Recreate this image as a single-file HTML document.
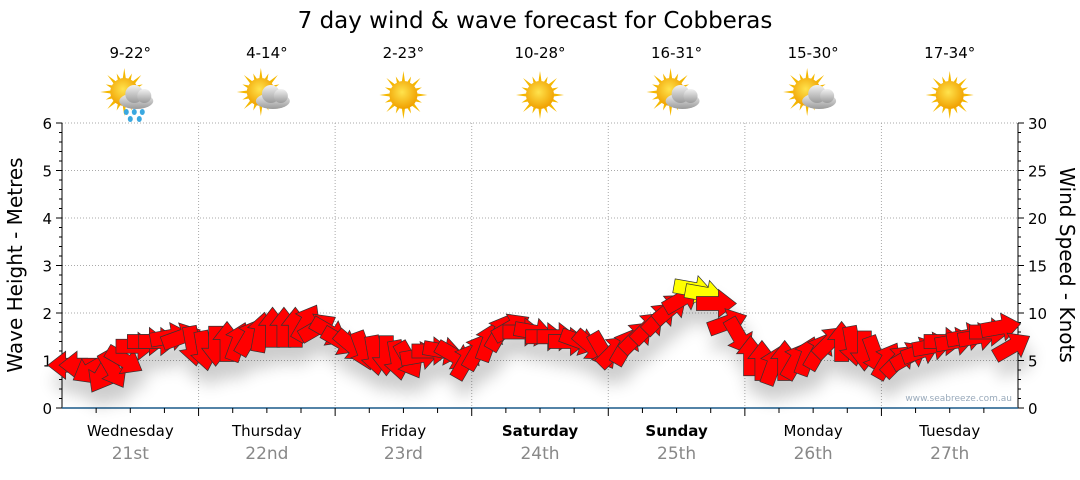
<!DOCTYPE html>
<html><head><meta charset="utf-8"><style>
body{margin:0;background:#fff;width:1080px;height:475px;overflow:hidden;font-family:"Liberation Sans","DejaVu Sans",sans-serif}
svg text{font-family:"DejaVu Sans","Liberation Sans",sans-serif}
</style></head><body>
<svg id="c" width="1080" height="475" xmlns="http://www.w3.org/2000/svg">
<defs>
<filter id="sh" x="-20%" y="-20%" width="140%" height="180%"><feGaussianBlur in="SourceAlpha" stdDeviation="8"/><feOffset dx="4" dy="16"/><feComponentTransfer><feFuncA type="linear" slope="0.2"/></feComponentTransfer><feMerge><feMergeNode/><feMergeNode in="SourceGraphic"/></feMerge></filter>
<radialGradient id="sun" cx="45%" cy="40%" r="60%"><stop offset="0" stop-color="#ffe34d"/><stop offset="1" stop-color="#f0a000"/></radialGradient>
<linearGradient id="cloud" x1="0" y1="0" x2="0" y2="1"><stop offset="0" stop-color="#f2f2f2"/><stop offset="1" stop-color="#9a9a9a"/></linearGradient>
</defs>
<text x="535" y="28" font-size="23" text-anchor="middle">7 day wind &amp; wave forecast for Cobberas</text>
<g id="grid"></g><g id="axes"></g><g id="icons"></g><g id="arrows" filter="url(#sh)"></g>
<text x="1012" y="401" font-size="9" fill="#9ab" text-anchor="end">www.seabreeze.com.au</text>
<text transform="translate(22,265) rotate(-90)" font-size="20" text-anchor="middle">Wave Height - Metres</text>
<text transform="translate(1060,265) rotate(90)" font-size="20" text-anchor="middle">Wind Speed - Knots</text>
</svg>
<script>
const days=["Wednesday","Thursday","Friday","Saturday","Sunday","Monday","Tuesday"];
const dates=["21st","22nd","23rd","24th","25th","26th","27th"];
const temps=["9-22°","4-14°","2-23°","10-28°","16-31°","15-30°","17-34°"];
const icons=["rain","cloud","sun","sun","cloud","cloud","sun"];
const waveTicks=[0,1,2,3,4,5,6];
const windTicks=[0,5,10,15,20,25,30];
// wind every 2 hours (knots) and arrow pointing direction (deg, 0=right, 90=down)
const windSpeed=[4.5,4.5,4,3.5,4,5,6.5,7,7,7.5,7.5,6.5, 6,6.5,7,7,7.5,8,8.5,8.5,8.5,9,8.5,8, 7,6.5,6,5.5,5.5,5,5,5.5,6,6,5.5,5, 6,7,8,8.5,8,8,7.5,7.5,7,7,6.5,6, 6,6.5,7.5,8.5,9.5,10.5,11.5,12.5,12,11,9,7.5, 5.5,5,4.5,5,5,5.5,6,7,7,6.5,6,5.5, 5,5,5.5,6,6.5,7,7,7.5,7.5,8,8.5,6.5];
const windDir=[180,180,150,120,60,30,0,0,0,-10,-20,80, 80,90,-90,-70,-60,-80,-90,-90,-90,-60,-30,30, 30,40,70,80,90,80,60,-10,0,10,30,-60, -60,-70,-60,-30,0,10,0,0,0,20,40,60, -45,-60,-45,-45,-45,-40,-30,10,10,0,-20,60, -90,-90,-70,-90,-60,-70,-60,-45,-90,80,90,70, -60,-45,-30,-20,-10,0,-10,-10,-10,0,-10,-30];
const NS="http://www.w3.org/2000/svg";
const L=62,R=1018,T=123,B=408,DW=(R-L)/7;
const yW=m=>B-(B-T)*m/6, yK=k=>B-(B-T)*k/30, xH=h=>L+DW*h/24;
function mk(t,a,p){const e=document.createElementNS(NS,t);for(const k in a)e.setAttribute(k,a[k]);(p||document.getElementById('c')).appendChild(e);return e;}
const g=document.getElementById('grid'),ax=document.getElementById('axes'),ic=document.getElementById('icons'),ar=document.getElementById('arrows');
waveTicks.forEach((v,i)=>{
 if(v>0){const l=mk('line',{x1:L,x2:R,y1:yW(v),y2:yW(v),stroke:'#aaa','stroke-dasharray':'1,2'},g);}
 const t=mk('text',{x:L-10,y:yW(v)+6,'font-size':15,'text-anchor':'end'},ax);t.textContent=v;
 
 mk('line',{x1:L-6,x2:L,y1:yW(v),y2:yW(v),stroke:'#000'},ax);
 if(v<6)for(let j=1;j<5;j++)mk('line',{x1:L-3,x2:L,y1:yW(v+j/5),y2:yW(v+j/5),stroke:'#000'},ax);
});
windTicks.forEach(v=>{
 const t=mk('text',{x:R+10,y:yK(v)+6,'font-size':15},ax);t.textContent=v;
 
 mk('line',{x1:R,x2:R+6,y1:yK(v),y2:yK(v),stroke:'#000'},ax);
 if(v<30)for(let j=1;j<5;j++)mk('line',{x1:R,x2:R+3,y1:yK(v+j),y2:yK(v+j),stroke:'#000'},ax);
});
mk('line',{x1:L,x2:L,y1:T,y2:B,stroke:'#000'},ax);
mk('line',{x1:R,x2:R,y1:T,y2:B,stroke:'#000'},ax);
mk('line',{x1:L,x2:R,y1:B,y2:B,stroke:'#1a5a8a','stroke-width':1.5},ax);
function sunG(p,cx,cy){for(let i=0;i<16;i++){const a=i*Math.PI/8,r1=(i%2?20:24);mk('polygon',{points:`${cx+Math.cos(a-0.15)*12},${cy+Math.sin(a-0.15)*12} ${cx+Math.cos(a)*r1},${cy+Math.sin(a)*r1} ${cx+Math.cos(a+0.15)*12},${cy+Math.sin(a+0.15)*12}`,fill:'#f5b800'},p);}mk('circle',{cx,cy,r:14,fill:'url(#sun)'},p);}
for(let d=0;d<7;d++){
 const x0=L+DW*d,cx=x0+DW/2;
 if(d>0){const l=mk('line',{x1:x0,x2:x0,y1:T,y2:B,stroke:'#aaa','stroke-dasharray':'1,2'},g);
 mk('line',{x1:x0,x2:x0,y1:B,y2:B+8,stroke:'#000'},ax);}
 for(let j=1;j<4;j++)mk('line',{x1:x0+DW*j/4,x2:x0+DW*j/4,y1:B,y2:B+5,stroke:'#000'},ax);
 const bold=(d==3||d==4)?'bold':'normal';
 let t=mk('text',{x:cx,y:436,'font-size':15,'text-anchor':'middle','font-weight':bold},ax);t.textContent=days[d];
 
 t=mk('text',{x:cx,y:459,'font-size':17,'text-anchor':'middle',fill:'#888'},ax);t.textContent=dates[d];
 
 t=mk('text',{x:cx,y:58,'font-size':15,'text-anchor':'middle'},ic);t.textContent=temps[d];
 
 const gi=mk('g',{},ic);
 if(icons[d]=='sun')sunG(gi,cx,95);
 else{sunG(gi,cx-6,92);const c=mk('g',{fill:'url(#cloud)'},gi);
  mk('ellipse',{cx:cx+6,cy:101,rx:17,ry:8},c);mk('circle',{cx:cx+4,cy:94,r:9},c);mk('circle',{cx:cx+14,cy:96,r:7},c);
  if(icons[d]=='rain')[[-4,112],[4,112],[12,112],[0,119],[9,119]].forEach(p=>mk('ellipse',{cx:cx+p[0],cy:p[1],rx:2.5,ry:3,fill:'#3aa8e0'},gi));}
}
windSpeed.forEach((s,i)=>{
 const x=xH(i*2+1),y=yK(s);
 const p=mk('polygon',{points:'-20,-7 2,-7 2,-14 20,0 2,14 2,7 -20,7',fill:s>=12?'#ffff00':'#ff0000',stroke:'#333','stroke-width':0.7,transform:`translate(${x},${y}) rotate(${windDir[i]})`},ar);
 
 
});
</script>
</body></html>
